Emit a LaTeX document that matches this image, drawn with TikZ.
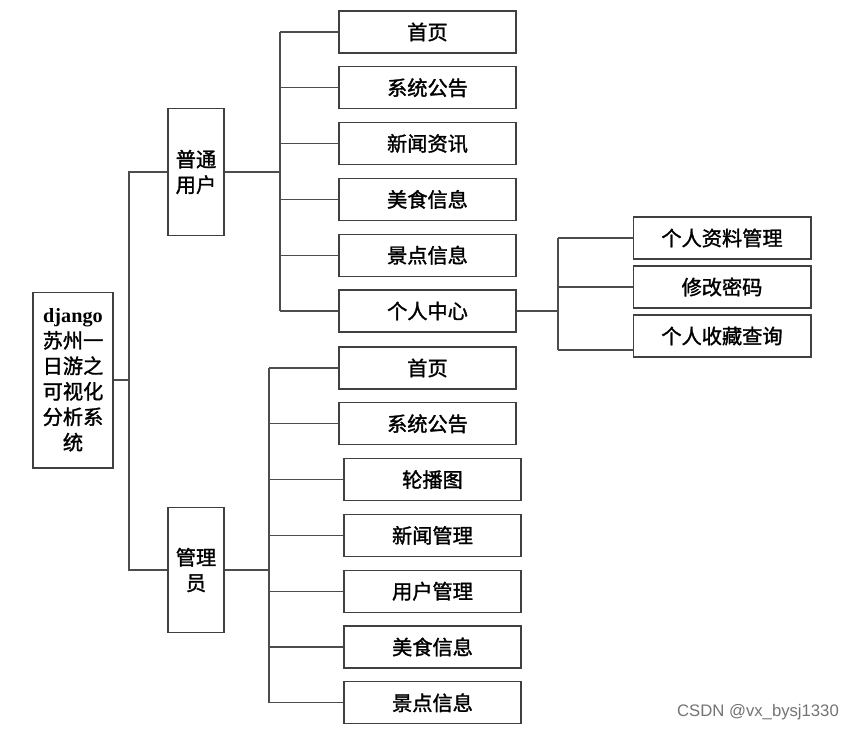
\documentclass[tikz,border=0pt]{standalone}
\usepackage{fontspec}
\setmainfont{Liberation Serif}
\newfontfamily\cjk[FakeBold=1.5,AutoFakeBold=1.5]{Noto Sans CJK SC}
\newfontfamily\wm{Liberation Sans}
\usetikzlibrary{calc}

\begin{document}
\begin{tikzpicture}[x=0.02cm,y=-0.02cm,
    box/.style={draw=black!75,line width=0.6pt,minimum height=0.84cm,inner sep=0pt,
        align=center,font=\cjk\fontsize{11.5}{14.5}\selectfont},
    wire/.style={draw=black!70,line width=0.6pt}]
    \useasboundingbox (0,0) rectangle (851,731);
    \node[box,minimum width=1.6cm,minimum height=3.52cm] (root) at (73,380)
        {{\rmfamily\bfseries django}\\苏州一\\日游之\\可视化\\分析系\\统};
    \node[box,minimum width=1.12cm,minimum height=2.54cm] (user) at (196,172) {普通\\用户};
    \node[box,minimum width=1.12cm,minimum height=2.5cm] (admin) at (196,570) {管理\\员};
    \foreach \t [count=\i] in {首页,系统公告,新闻资讯,美食信息,景点信息,个人中心}
        \node[box,minimum width=3.54cm] (u\i) at (427.5,{32+55.8*(\i-1)}) {\t};
    \foreach \t/\xx [count=\i] in {首页/427.5,系统公告/427.5,轮播图/432.5,新闻管理/432.5,
        用户管理/432.5,美食信息/432.5,景点信息/432.5}
        \node[box,minimum width=3.54cm] (a\i) at (\xx,{368+55.8*(\i-1)}) {\t};
    \foreach \t [count=\i] in {个人资料管理,修改密码,个人收藏查询}
        \node[box,minimum width=3.56cm] (s\i) at (722,{238+49*(\i-1)}) {\t};
    \coordinate (rb) at (129,380);
    \coordinate (ub) at (280,172);
    \coordinate (ab) at (269,570);
    \coordinate (pb) at (558,314);
    \draw[wire] (root.east) -- (rb);
    \draw[wire] (rb) |- (user.west);
    \draw[wire] (rb) |- (admin.west);
    \draw[wire] (user.east) -- (ub);
    \draw[wire] (ub |- u1.west) -- (ub |- u6.west);
    \foreach \i in {1,...,6}
        \draw[wire] (ub |- u\i.west) -- (u\i.west);
    \draw[wire] (admin.east) -- (ab);
    \draw[wire] (ab |- a1.west) -- (ab |- a7.west);
    \foreach \i in {1,...,7}
        \draw[wire] (ab |- a\i.west) -- (a\i.west);
    \draw[wire] (u6.east) -- (u6.east -| pb);
    \draw[wire] (pb |- s1.west) -- ($(pb |- s3.west)+(0,14)$);
    \draw[wire] (pb |- s1.west) -- (s1.west);
    \draw[wire] (pb |- s2.west) -- (s2.west);
    \draw[wire] ($(pb |- s3.west)+(0,14)$) -- ($(s3.west)+(0,14)$);
    \node[font=\wm\fontsize{9.5}{11}\selectfont,text=black!55] (mark) at (758,712) {CSDN @vx\_bysj1330};
\end{tikzpicture}
\end{document}
